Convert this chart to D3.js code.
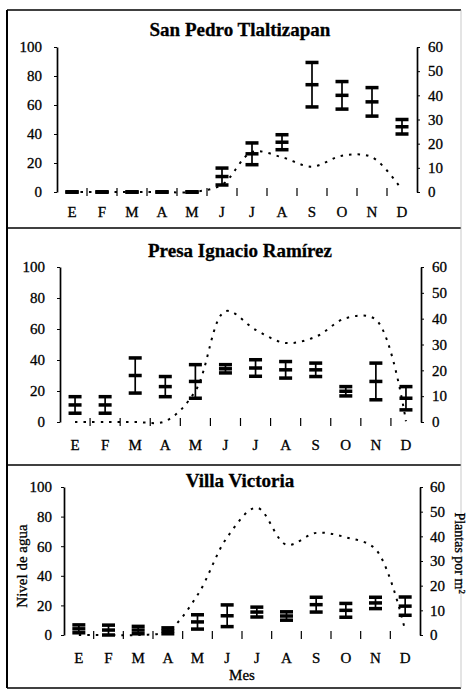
<!DOCTYPE html>
<html>
<head>
<meta charset="utf-8">
<script src="https://cdn.jsdelivr.net/npm/d3@7"></script>
<style>
  body { margin: 0; background: #fff; }
  svg { display: block; font-family: "Liberation Serif", "Times New Roman", serif; }
  svg text { stroke: #000; stroke-width: 0.3px; }
  .axis path, .axis line { stroke: #000; }
  .axis path { stroke-width: 1.7px; }
  .axis text { font-size: 15px; fill: #000; font-family: "Liberation Serif", serif; }
</style>
</head>
<body>
<svg id="fig" width="470" height="690"></svg>
<script>
/*
  nivel de agua (linea punteada, eje izquierdo 0-100)
  plantas por m2 (media +- error, eje derecho 0-60)
*/
const months = ['E', 'F', 'M', 'A', 'M', 'J', 'J', 'A', 'S', 'O', 'N', 'D'];
const sites = ['San Pedro Tlaltizapan', 'Presa Ignacio Ramírez', 'Villa Victoria'];
const nivelTicks = [0, 20, 40, 60, 80, 100];
const plantasTicks = [0, 10, 20, 30, 40, 50, 60];

const nivelSanPedro = [0, 0, 0, 0, 0, 5, 27.5, 24, 17.5, 25, 24, 1.5];
const plantasSanPedro = [0, 0, 0, 0, 0, 6.4, 15.8, 20.6, 44.4, 40, 37.3, 27];
const errorSanPedro = [0, 0, 0, 0, 0, 3.5, 4.5, 3.1, 9.2, 5.7, 5.9, 3];

const nivelPresa = [0, 0, 0, 0.5, 20, 71.5, 59.5, 51, 55, 67, 66, 0.5];
const plantasPresa = [6.6, 6.6, 18, 13.7, 15.7, 20.6, 20.9, 20.2, 20.2, 11.9, 15.7, 9.2];
const errorPresa = [3.2, 3.2, 6.8, 3.9, 6.5, 1.6, 3.2, 3.2, 2.6, 1.8, 7.1, 4.5];

const nivelVilla = [0, 0, 0, 3, 27, 66, 86, 61, 69, 66, 58, 3];
const plantasVilla = [2.5, 2, 2, 1.7, 5.3, 7.8, 9.3, 7.7, 12.3, 10, 13, 11.7];
const errorVilla = [1.6, 2, 1.5, 1.2, 2.9, 4.4, 2, 1.7, 3, 2.8, 2.3, 3.7];

(function() {
  const svg = d3.select('#fig');

  // where each panel sits in the page
  const panels = [
    { title: sites[0], nivel: nivelSanPedro, plantas: plantasSanPedro, error: errorSanPedro,
      left: 57, right: 417, top: 47, base: 192, titleY: 36, monthY: 217, padL: 12, padR: 8 },
    { title: sites[1], nivel: nivelPresa, plantas: plantasPresa, error: errorPresa,
      left: 60, right: 421, top: 267, base: 422, titleY: 257, monthY: 450, padL: 12, padR: 8 },
    { title: sites[2], nivel: nivelVilla, plantas: plantasVilla, error: errorVilla,
      left: 64, right: 420, top: 487, base: 635, titleY: 487, monthY: 663, padL: 9, padR: 7 }
  ];

  // frame round the three panels
  const frame = svg.append('g').attr('stroke', '#000').attr('fill', 'none');
  frame.append('line').attr('x1', 7).attr('x2', 7).attr('y1', 10).attr('y2', 688).attr('stroke-width', 2);
  [10, 228, 465, 688].forEach(y => {
    frame.append('line').attr('x1', 7).attr('x2', 461).attr('y1', y).attr('y2', y).attr('stroke-width', 1.4);
  });
  frame.append('line').attr('x1', 461).attr('x2', 461).attr('y1', 10).attr('y2', 688)
    .attr('stroke', '#bbb').attr('stroke-width', 0.8);

  panels.forEach(p => {
    const g = svg.append('g');

    const x = d3.scaleBand()
      .domain(d3.range(months.length)) // months repeat so use the index
      .range([p.left, p.right]);
    const cx = i => x(i) + x.bandwidth() / 2;

    const yL = d3.scaleLinear().domain([0, 100]).range([p.base, p.top]);
    const yR = d3.scaleLinear().domain([0, 60]).range([p.base, p.top]);

    g.append('g')
      .attr('class', 'axis')
      .attr('transform', `translate(${p.left},0)`)
      .call(d3.axisLeft(yL).tickValues(nivelTicks).tickSizeInner(3).tickSizeOuter(0).tickPadding(p.padL));

    g.append('g')
      .attr('class', 'axis')
      .attr('transform', `translate(${p.right},0)`)
      .call(d3.axisRight(yR).tickValues(plantasTicks).tickSizeInner(3).tickSizeOuter(0).tickPadding(p.padR));

    // little ticks between months, no solid x axis line
    g.append('g').selectAll('line')
      .data(d3.range(1, months.length))
      .enter().append('line')
        .attr('x1', i => x(i))
        .attr('x2', i => x(i))
        .attr('y1', p.base - 4)
        .attr('y2', p.base + 4)
        .attr('stroke', '#000')
        .attr('stroke-width', 1.2);

    g.append('g').selectAll('text')
      .data(months)
      .enter().append('text')
        .attr('x', (d, i) => cx(i))
        .attr('y', p.monthY)
        .attr('text-anchor', 'middle')
        .attr('font-size', 15)
        .text(d => d);

    g.append('text')
      .attr('x', 240)
      .attr('y', p.titleY)
      .attr('text-anchor', 'middle')
      .attr('font-size', 19)
      .attr('font-weight', 'bold')
      .text(p.title);

    // water level, smoothed dotted line
    const line = d3.line()
      .x((d, i) => cx(i))
      .y(d => yL(d))
      .curve(d3.curveCatmullRom.alpha(0.5));

    g.append('path')
      .datum(p.nivel)
      .attr('d', line)
      .attr('fill', 'none')
      .attr('stroke', '#000')
      .attr('stroke-width', 2)
      .attr('stroke-dasharray', '2.5,6');

    // plants: mean with error bars, caps drawn as thick dashes
    const bar = g.append('g').selectAll('g')
      .data(p.plantas)
      .enter().append('g')
        .attr('transform', (d, i) => `translate(${cx(i)},0)`);

    bar.append('line')
      .attr('y1', (d, i) => yR(d - p.error[i]))
      .attr('y2', (d, i) => yR(d + p.error[i]))
      .attr('stroke', '#000')
      .attr('stroke-width', 1.7);

    [-1, 0, 1].forEach(k => {
      bar.append('rect')
        .attr('x', -6.5)
        .attr('width', 13)
        .attr('y', (d, i) => yR(d + k * p.error[i]) - 1.75)
        .attr('height', 3.5)
        .attr('fill', '#000');
    });

    if (p.title === 'Villa Victoria') {
      g.append('text')
        .attr('transform', `translate(27,${(p.top + p.base) / 2 + 5}) rotate(-90)`)
        .attr('text-anchor', 'middle')
        .attr('font-size', 15)
        .text('Nivel de agua');

      g.append('text')
        .attr('transform', `translate(455,553) rotate(90)`)
        .attr('text-anchor', 'middle')
        .attr('font-size', 14)
        .text('Plantas por m²');

      g.append('text')
        .attr('x', 242)
        .attr('y', 680)
        .attr('text-anchor', 'middle')
        .attr('font-size', 15)
        .text('Mes');
    }
  });
})();
</script>
</body>
</html>
